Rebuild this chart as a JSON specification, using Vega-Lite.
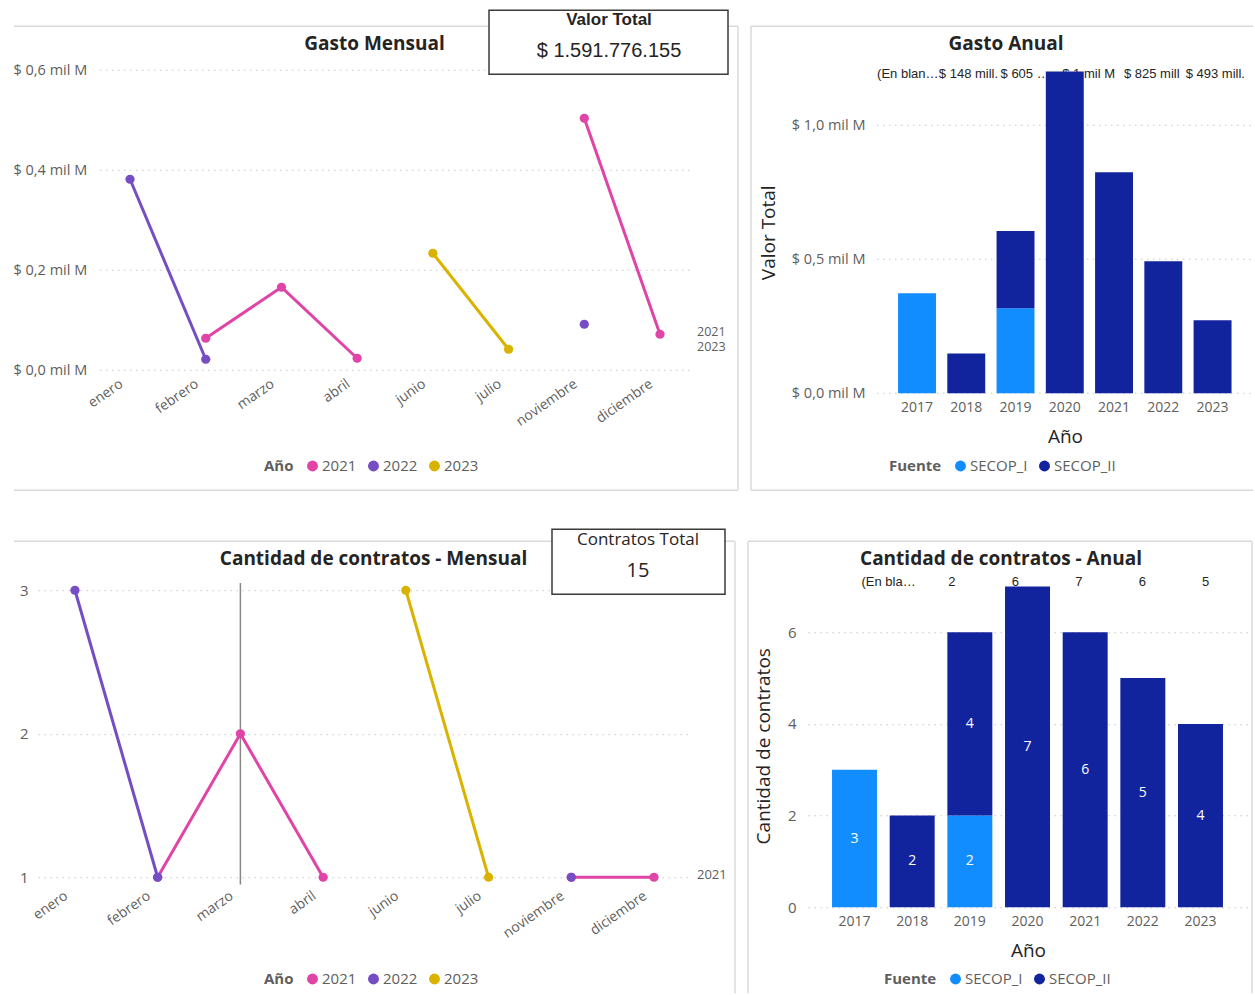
{
  "$schema": "https://vega.github.io/schema/vega-lite/v6.json",
  "padding": {"left": 13, "top": 9.25, "right": 0, "bottom": 0},
  "background": "white",
  "columns": 2,
  "bounds": "flush",
  "spacing": {"row": 184, "column": 116},
  "resolve": {
    "scale": {"color": "independent", "fill": "independent", "stroke": "independent", "x": "independent", "y": "independent"},
    "legend": {"color": "independent", "fill": "independent", "stroke": "independent"}
  },
  "datasets": {
    "mensual": [
      {"mes": "enero", "n": 1, "anio": "2021", "valor": null, "contratos": null},
      {"mes": "febrero", "n": 2, "anio": "2021", "valor": 0.064, "contratos": 1},
      {"mes": "marzo", "n": 3, "anio": "2021", "valor": 0.166, "contratos": 2},
      {"mes": "abril", "n": 4, "anio": "2021", "valor": 0.024, "contratos": 1},
      {"mes": "junio", "n": 6, "anio": "2021", "valor": null, "contratos": null},
      {"mes": "julio", "n": 7, "anio": "2021", "valor": null, "contratos": null},
      {"mes": "noviembre", "n": 11, "anio": "2021", "valor": 0.504, "contratos": 1},
      {"mes": "diciembre", "n": 12, "anio": "2021", "valor": 0.072, "contratos": 1},
      {"mes": "enero", "n": 1, "anio": "2022", "valor": 0.382, "contratos": 3},
      {"mes": "febrero", "n": 2, "anio": "2022", "valor": 0.022, "contratos": 1},
      {"mes": "marzo", "n": 3, "anio": "2022", "valor": null, "contratos": null},
      {"mes": "abril", "n": 4, "anio": "2022", "valor": null, "contratos": null},
      {"mes": "junio", "n": 6, "anio": "2022", "valor": null, "contratos": null},
      {"mes": "julio", "n": 7, "anio": "2022", "valor": null, "contratos": null},
      {"mes": "noviembre", "n": 11, "anio": "2022", "valor": 0.092, "contratos": 1},
      {"mes": "diciembre", "n": 12, "anio": "2022", "valor": null, "contratos": null},
      {"mes": "junio", "n": 6, "anio": "2023", "valor": 0.234, "contratos": 3},
      {"mes": "julio", "n": 7, "anio": "2023", "valor": 0.042, "contratos": 1}
    ],
    "anual": [
      {"anio": "2017", "fuente": "SECOP_I", "valor": 0.373, "contratos": 3},
      {"anio": "2018", "fuente": "SECOP_II", "valor": 0.148, "contratos": 2},
      {"anio": "2019", "fuente": "SECOP_I", "valor": 0.317, "contratos": 2},
      {"anio": "2019", "fuente": "SECOP_II", "valor": 0.288, "contratos": 4},
      {"anio": "2020", "fuente": "SECOP_II", "valor": 1.201, "contratos": 7},
      {"anio": "2021", "fuente": "SECOP_II", "valor": 0.825, "contratos": 6},
      {"anio": "2022", "fuente": "SECOP_II", "valor": 0.493, "contratos": 5},
      {"anio": "2023", "fuente": "SECOP_II", "valor": 0.272, "contratos": 4}
    ],
    "etiquetas_valor": [
      {"pos": "2017", "texto": "(En blan…"},
      {"pos": "2018", "texto": "$ 148 mill."},
      {"pos": "2019", "texto": "$ 605 …"},
      {"pos": "2020", "texto": "$ 1 mil M"},
      {"pos": "2021", "texto": "$ 825 mill"},
      {"pos": "2022", "texto": "$ 493 mill."}
    ],
    "etiquetas_contratos": [
      {"pos": "2017", "texto": "(En bla…"},
      {"pos": "2018", "texto": "2"},
      {"pos": "2019", "texto": "6"},
      {"pos": "2020", "texto": "7"},
      {"pos": "2021", "texto": "6"},
      {"pos": "2022", "texto": "5"}
    ],
    "fin_valor": [
      {"anio": "2021", "valor": 0.072},
      {"anio": "2023", "valor": 0.042}
    ],
    "fin_contratos": [
      {"anio": "2021", "contratos": 1}
    ],
    "cursor": [{"mes": "marzo"}],
    "grid_valor": [{"v": 0}, {"v": 0.2}, {"v": 0.4}, {"v": 0.6}],
    "grid_anual": [{"v": 0}, {"v": 0.5}, {"v": 1}],
    "kpi": [{"titulo": "Valor Total", "valor": "$ 1.591.776.155", "titulo_c": "Contratos Total", "contratos": "15"}]
  },
  "concat": [
    {
      "width": 654,
      "height": 312,
      "title": {"text": "Gasto Mensual", "dx": 9.5, "offset": -44.3},
      "layer": [
        {"data": {"name": "kpi"}, "mark": {"type": "rule", "color": "#DADADA", "strokeWidth": 1.5}, "encoding": {"x": {"value": -24}, "x2": {"value": 700}, "y": {"value": -32}, "y2": {"value": -32}}},
        {"data": {"name": "kpi"}, "mark": {"type": "rule", "color": "#DADADA", "strokeWidth": 1.5}, "encoding": {"x": {"value": 700}, "x2": {"value": 700}, "y": {"value": -32}, "y2": {"value": 432}}},
        {"data": {"name": "kpi"}, "mark": {"type": "rule", "color": "#DADADA", "strokeWidth": 1.5}, "encoding": {"x": {"value": -24}, "x2": {"value": 700}, "y": {"value": 432}, "y2": {"value": 432}}},
        {
          "data": {"name": "grid_valor"},
          "mark": {"type": "rule", "strokeDash": [1.5, 4.5], "color": "#C8C6C4", "strokeWidth": 1, "xOffset": -30, "x2Offset": 32},
          "encoding": {
            "x": {"datum": "enero", "type": "ordinal"},
            "x2": {"datum": "diciembre"},
            "y": {"field": "v", "type": "quantitative"}
          }
        },
        {
          "data": {"name": "mensual"},
          "mark": {"type": "line", "strokeWidth": 3},
          "encoding": {
            "x": {
              "field": "mes", "type": "ordinal",
              "sort": ["enero", "febrero", "marzo", "abril", "junio", "julio", "noviembre", "diciembre"],
              "scale": {"type": "point", "domain": ["enero", "febrero", "marzo", "abril", "junio", "julio", "noviembre", "diciembre"], "padding": 0.819, "align": 0.742},
              "axis": {"title": null, "labelAngle": -35, "labelFontSize": 14, "labelPadding": 12, "labelOffset": -9}
            },
            "y": {
              "field": "valor", "type": "quantitative",
              "scale": {"domain": [0, 0.624], "nice": false, "zero": true},
              "axis": {"title": null, "values": [0, 0.2, 0.4, 0.6], "offset": -59, "labelAlign": "left", "labelPadding": 84, "labelFontSize": 14.5, "labelExpr": "'$ ' + replace(format(datum.value, '.1f'), '.', ',') + ' mil M'"}
            },
            "stroke": {"field": "anio", "type": "nominal", "scale": {"domain": ["2021", "2022", "2023"], "range": ["#E044A7", "#744EC2", "#D9B300"]}, "legend": {"orient": "none", "legendX": 226, "legendY": 400, "direction": "horizontal", "title": "Año", "titleOrient": "left", "symbolType": "circle"}},
            "order": {"field": "n", "type": "quantitative"}
          }
        },
        {
          "data": {"name": "mensual"},
          "mark": {"type": "point", "filled": true, "size": 85, "opacity": 1},
          "encoding": {
            "x": {"field": "mes", "type": "ordinal"},
            "y": {"field": "valor", "type": "quantitative"},
            "fill": {"field": "anio", "type": "nominal", "scale": {"domain": ["2021", "2022", "2023"], "range": ["#E044A7", "#744EC2", "#D9B300"]}, "legend": {"orient": "none", "legendX": 226, "legendY": 400, "direction": "horizontal", "title": "Año", "titleOrient": "left", "symbolType": "circle"}}
          }
        },
        {
          "data": {"name": "fin_valor"},
          "mark": {"type": "text", "align": "left", "baseline": "middle", "dx": 37, "dy": -2, "fontSize": 12.5, "color": "#605E5C"},
          "encoding": {
            "x": {"datum": "diciembre", "type": "ordinal"},
            "y": {"field": "valor", "type": "quantitative"},
            "text": {"field": "anio"}
          }
        },
        {
          "data": {"name": "kpi"},
          "mark": {"type": "rect", "fill": "white", "stroke": "#3B3A39", "strokeWidth": 1.5},
          "encoding": {"x": {"value": 451}, "x2": {"value": 690}, "y": {"value": -48}, "y2": {"value": 16}}
        },
        {
          "data": {"name": "kpi"},
          "mark": {"type": "text", "font": "Liberation Sans", "fontWeight": "bold", "fontSize": 17, "color": "#252423", "align": "center", "baseline": "middle"},
          "encoding": {"x": {"value": 571}, "y": {"value": -38}, "text": {"field": "titulo"}}
        },
        {
          "data": {"name": "kpi"},
          "mark": {"type": "text", "font": "Liberation Sans", "fontSize": 20, "color": "#252423", "align": "center", "baseline": "middle"},
          "encoding": {"x": {"value": 571}, "y": {"value": -7}, "text": {"field": "valor"}}
        }
      ]
    },
    {
      "width": 432,
      "height": 335,
      "title": {"text": "Gasto Anual", "dx": -18, "offset": -28.3},
      "layer": [
        {"data": {"name": "kpi"}, "mark": {"type": "rule", "color": "#DADADA", "strokeWidth": 1.5}, "encoding": {"x": {"value": -57}, "x2": {"value": 445}, "y": {"value": -32}, "y2": {"value": -32}}},
        {"data": {"name": "kpi"}, "mark": {"type": "rule", "color": "#DADADA", "strokeWidth": 1.5}, "encoding": {"x": {"value": -57}, "x2": {"value": -57}, "y": {"value": -32}, "y2": {"value": 432}}},
        {"data": {"name": "kpi"}, "mark": {"type": "rule", "color": "#DADADA", "strokeWidth": 1.5}, "encoding": {"x": {"value": -57}, "x2": {"value": 445}, "y": {"value": 432}, "y2": {"value": 432}}},
        {
          "data": {"name": "etiquetas_valor"},
          "mark": {"type": "text", "align": "left", "baseline": "middle", "font": "Liberation Sans", "fontSize": 13, "color": "#252423"},
          "encoding": {
            "x": {"field": "pos", "type": "ordinal", "scale": {"type": "point", "domain": ["2017", "2018", "2019", "2020", "2021", "2022"], "padding": 1.018, "align": 0.56}, "axis": null},
            "y": {"datum": 1.19, "type": "quantitative"},
            "text": {"field": "texto"}
          }
        },
        {
          "layer": [
            {
              "data": {"name": "grid_anual"},
              "mark": {"type": "rule", "strokeDash": [1.5, 4.5], "color": "#C8C6C4", "strokeWidth": 1, "xOffset": -40, "x2Offset": 39},
              "encoding": {
                "x": {"datum": "2017", "type": "ordinal"},
                "x2": {"datum": "2023"},
                "y": {"field": "v", "type": "quantitative"}
              }
            },
            {
              "data": {"name": "anual"},
              "mark": {"type": "bar"},
              "encoding": {
                "x": {
                  "field": "anio", "type": "ordinal",
                  "scale": {"type": "band", "domain": ["2017", "2018", "2019", "2020", "2021", "2022", "2023"], "paddingInner": 0.23, "paddingOuter": 1, "align": 0.914},
                  "axis": {"title": "Año", "bandPosition": 0.5, "labelAlign": "center", "labelBaseline": "top", "titleX": 257, "titleY": 43, "titleAlign": "center", "titleBaseline": "middle", "titleFontSize": 19, "titleFontWeight": "normal", "titleColor": "#252423", "labelAngle": 0, "labelFontSize": 14, "labelPadding": 7}
                },
                "y": {
                  "field": "valor", "type": "quantitative", "stack": "zero",
                  "scale": {"domain": [0, 1.25], "nice": false},
                  "axis": {"title": "Valor Total", "titleX": -109, "titleY": 174, "titleAngle": -90, "titleAlign": "center", "titleBaseline": "middle", "titleFontSize": 19, "titleFontWeight": "normal", "titleColor": "#252423", "values": [0, 0.5, 1], "offset": -69, "labelPadding": 12, "labelFontSize": 14.5, "labelExpr": "'$ ' + replace(format(datum.value, '.1f'), '.', ',') + ' mil M'"}
                },
                "color": {
                  "field": "fuente", "type": "nominal",
                  "scale": {"domain": ["SECOP_I", "SECOP_II"], "range": ["#118DFF", "#12239E"]},
                  "legend": {"orient": "none", "legendX": 81, "legendY": 400, "direction": "horizontal", "title": "Fuente", "titleOrient": "left"}
                },
                "order": {"field": "fuente", "type": "nominal"}
              }
            }
          ]
        }
      ],
      "resolve": {"scale": {"x": "independent"}}
    },
    {
      "width": 654,
      "height": 300,
      "title": {"text": "Cantidad de contratos - Mensual", "dx": 8.5, "offset": -40.3},
      "layer": [
        {"data": {"name": "kpi"}, "mark": {"type": "rule", "color": "#DADADA", "strokeWidth": 1.5}, "encoding": {"x": {"value": -24}, "x2": {"value": 697}, "y": {"value": -36}, "y2": {"value": -36}}},
        {"data": {"name": "kpi"}, "mark": {"type": "rule", "color": "#DADADA", "strokeWidth": 1.5}, "encoding": {"x": {"value": 697}, "x2": {"value": 697}, "y": {"value": -36}, "y2": {"value": 416}}},
        {
          "data": {"name": "cursor"},
          "mark": {"type": "rule", "color": "#8A8886", "strokeWidth": 1.5},
          "encoding": {
            "x": {"field": "mes", "type": "ordinal"},
            "y": {"datum": 3.05, "type": "quantitative"},
            "y2": {"datum": 0.95}
          }
        },
        {
          "data": {"name": "mensual"},
          "mark": {"type": "line", "strokeWidth": 3},
          "encoding": {
            "x": {
              "field": "mes", "type": "ordinal",
              "sort": ["enero", "febrero", "marzo", "abril", "junio", "julio", "noviembre", "diciembre"],
              "scale": {"type": "point", "domain": ["enero", "febrero", "marzo", "abril", "junio", "julio", "noviembre", "diciembre"], "padding": 0.453, "align": 0.493},
              "axis": {"title": null, "labelAngle": -35, "labelFontSize": 14, "labelPadding": 17, "labelOffset": -9}
            },
            "y": {
              "field": "contratos", "type": "quantitative",
              "scale": {"domain": [1, 3.0906], "nice": false, "zero": false},
              "axis": {"title": null, "values": [1, 2, 3], "format": ".0f", "labelOverlap": false, "grid": true, "labelPadding": 10, "labelFontSize": 15}
            },
            "stroke": {"field": "anio", "type": "nominal", "scale": {"domain": ["2021", "2022", "2023"], "range": ["#E044A7", "#744EC2", "#D9B300"]}, "legend": {"orient": "none", "legendX": 226, "legendY": 394, "direction": "horizontal", "title": "Año", "titleOrient": "left", "symbolType": "circle"}},
            "order": {"field": "n", "type": "quantitative"}
          }
        },
        {
          "data": {"name": "mensual"},
          "mark": {"type": "point", "filled": true, "size": 85, "opacity": 1},
          "encoding": {
            "x": {"field": "mes", "type": "ordinal"},
            "y": {"field": "contratos", "type": "quantitative"},
            "fill": {"field": "anio", "type": "nominal", "scale": {"domain": ["2021", "2022", "2023"], "range": ["#E044A7", "#744EC2", "#D9B300"]}, "legend": {"orient": "none", "legendX": 226, "legendY": 394, "direction": "horizontal", "title": "Año", "titleOrient": "left", "symbolType": "circle"}}
          }
        },
        {
          "data": {"name": "fin_contratos"},
          "mark": {"type": "text", "align": "left", "baseline": "middle", "dx": 43, "dy": -2, "fontSize": 13, "color": "#605E5C"},
          "encoding": {
            "x": {"datum": "diciembre", "type": "ordinal"},
            "y": {"field": "contratos", "type": "quantitative"},
            "text": {"field": "anio"}
          }
        },
        {
          "data": {"name": "kpi"},
          "mark": {"type": "rect", "fill": "white", "stroke": "#3B3A39", "strokeWidth": 1.5},
          "encoding": {"x": {"value": 514}, "x2": {"value": 687}, "y": {"value": -48}, "y2": {"value": 17}}
        },
        {
          "data": {"name": "kpi"},
          "mark": {"type": "text", "fontSize": 17, "color": "#252423", "align": "center", "baseline": "middle"},
          "encoding": {"x": {"value": 600}, "y": {"value": -37}, "text": {"field": "titulo_c"}}
        },
        {
          "data": {"name": "kpi"},
          "mark": {"type": "text", "fontSize": 20, "color": "#252423", "align": "center", "baseline": "middle"},
          "encoding": {"x": {"value": 600}, "y": {"value": -6}, "text": {"field": "contratos"}}
        }
      ]
    },
    {
      "width": 444,
      "height": 330,
      "title": {"text": "Cantidad de contratos - Anual", "dx": -29, "offset": -28.3},
      "layer": [
        {"data": {"name": "kpi"}, "mark": {"type": "rule", "color": "#DADADA", "strokeWidth": 1.5}, "encoding": {"x": {"value": -60}, "x2": {"value": 444}, "y": {"value": -36}, "y2": {"value": -36}}},
        {"data": {"name": "kpi"}, "mark": {"type": "rule", "color": "#DADADA", "strokeWidth": 1.5}, "encoding": {"x": {"value": -60}, "x2": {"value": -60}, "y": {"value": -36}, "y2": {"value": 416}}},
        {"data": {"name": "kpi"}, "mark": {"type": "rule", "color": "#DADADA", "strokeWidth": 1.5}, "encoding": {"x": {"value": 444}, "x2": {"value": 444}, "y": {"value": -36}, "y2": {"value": 416}}},
        {
          "data": {"name": "etiquetas_contratos"},
          "mark": {"type": "text", "align": "center", "baseline": "middle", "font": "Liberation Sans", "fontSize": 13, "color": "#252423"},
          "encoding": {
            "x": {"field": "pos", "type": "ordinal", "scale": {"type": "point", "domain": ["2017", "2018", "2019", "2020", "2021", "2022"], "padding": 1.116, "align": 0.635}, "axis": null},
            "y": {"datum": 7.09, "type": "quantitative"},
            "text": {"field": "texto"}
          }
        },
        {
          "layer": [
            {
              "data": {"name": "anual"},
              "mark": {"type": "bar"},
              "encoding": {
                "x": {
                  "field": "anio", "type": "ordinal",
                  "scale": {"type": "band", "domain": ["2017", "2018", "2019", "2020", "2021", "2022", "2023"], "paddingInner": 0.22, "paddingOuter": 0.46, "align": 0.453},
                  "axis": {"title": "Año", "bandPosition": 0.5, "titleX": 220, "titleY": 43, "titleAlign": "center", "titleBaseline": "middle", "titleFontSize": 19, "titleFontWeight": "normal", "titleColor": "#252423", "labelAngle": 0, "labelFontSize": 14, "labelPadding": 7}
                },
                "y": {
                  "field": "contratos", "type": "quantitative", "stack": "zero",
                  "scale": {"domain": [0, 7.2], "nice": false},
                  "axis": {"title": "Cantidad de contratos", "titleX": -44.5, "titleY": 168.5, "titleAngle": -90, "titleAlign": "center", "titleBaseline": "middle", "titleFontSize": 19, "titleFontWeight": "normal", "titleColor": "#252423", "values": [0, 2, 4, 6], "grid": true, "labelPadding": 12, "labelFontSize": 15}
                },
                "color": {
                  "field": "fuente", "type": "nominal",
                  "scale": {"domain": ["SECOP_I", "SECOP_II"], "range": ["#118DFF", "#12239E"]},
                  "legend": {"orient": "none", "legendX": 76, "legendY": 394, "direction": "horizontal", "title": "Fuente", "titleOrient": "left"}
                },
                "order": {"field": "fuente", "type": "nominal"}
              }
            },
            {
              "data": {"name": "anual"},
              "mark": {"type": "text", "color": "white", "fontSize": 14, "baseline": "middle", "align": "center"},
              "encoding": {
                "x": {"field": "anio", "type": "ordinal"},
                "y": {"field": "contratos", "type": "quantitative", "stack": "zero", "bandPosition": 0.5},
                "detail": {"field": "fuente", "type": "nominal"},
                "order": {"field": "fuente", "type": "nominal"},
                "text": {"field": "contratos", "type": "quantitative"}
              }
            }
          ]
        }
      ],
      "resolve": {"scale": {"x": "independent"}}
    }
  ],
  "config": {
    "font": "Open Sans",
    "view": {"stroke": null},
    "axis": {
      "labelFont": "Open Sans",
      "titleFont": "Open Sans",
      "labelColor": "#605E5C",
      "domain": false,
      "ticks": false,
      "tickSize": 0,
      "grid": false,
      "gridColor": "#C8C6C4",
      "gridDash": [1.5, 4.5],
      "gridWidth": 1
    },
    "legend": {
      "labelFont": "Open Sans",
      "titleFont": "Open Sans",
      "labelFontSize": 15,
      "labelColor": "#605E5C",
      "titleFontSize": 15,
      "titleFontWeight": "bold",
      "titleColor": "#605E5C",
      "symbolType": "circle",
      "symbolSize": 120,
      "symbolStrokeWidth": 0,
      "labelOffset": 2,
      "columnPadding": 9,
      "titlePadding": 11
    },
    "title": {
      "font": "Open Sans",
      "fontSize": 19,
      "fontWeight": "bold",
      "color": "#252423",
      "anchor": "middle",
      "frame": "group",
      "baseline": "middle"
    }
  }
}
